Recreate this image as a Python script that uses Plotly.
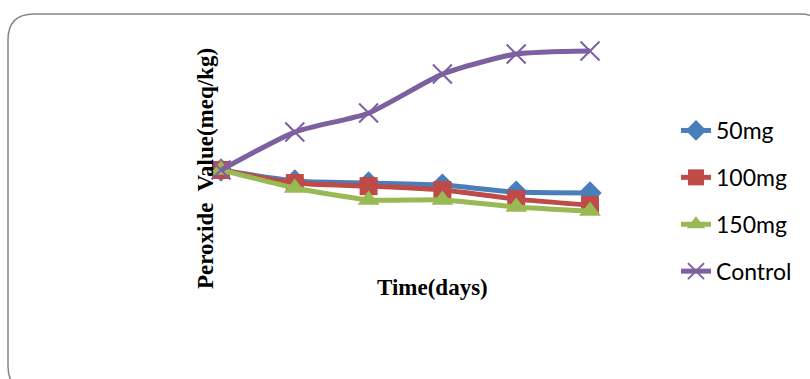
import plotly.graph_objects as go

# Sampling points along storage time and peroxide values (meq/kg)
samples = [1, 2, 3, 4, 5, 6]
pv_50mg = [5.0, 4.58, 4.50, 4.42, 4.15, 4.12]
pv_100mg = [5.0, 4.50, 4.38, 4.23, 3.88, 3.65]
pv_150mg = [5.0, 4.31, 3.85, 3.85, 3.58, 3.42]
pv_control = [5.0, 6.46, 7.19, 8.69, 9.46, 9.58]

series_names = ["50mg", "100mg", "150mg", "Control"]
series_values = [pv_50mg, pv_100mg, pv_150mg, pv_control]
series_colors = ["#4a7ebb", "#be4b48", "#98b954", "#7d60a0"]
series_symbols = ["diamond", "square", "triangle-up", "x-thin"]
marker_sizes = [18, 18, 19, 19]

W, H = 810, 379
ML, MR, MT, MB = 221, 220, 40, 79
PW, PH = W - ML - MR, H - MT - MB


def px(x):
    return (x - ML) / PW


def py(y):
    return (H - MB - y) / PH


fig = go.Figure()
for name, vals, col, sym, ms in zip(series_names, series_values, series_colors,
                                    series_symbols, marker_sizes):
    mk = dict(symbol=sym, size=ms, color=col)
    if sym == "x-thin":
        mk["line"] = dict(color=col, width=2)
    fig.add_trace(go.Scatter(
        x=samples, y=vals, name=name, legendgroup=name, mode="lines+markers",
        line=dict(color=col, width=5, shape="spline", smoothing=0.6),
        marker=mk, cliponaxis=False,
    ))

# Rounded outer frame
x0, x1, y0, y1, r = 8, 826, 14, 392, 26
path = (f"M {px(x0 + r)},{py(y0)} L {px(x1 - r)},{py(y0)} "
        f"Q {px(x1)},{py(y0)} {px(x1)},{py(y0 + r)} "
        f"L {px(x1)},{py(y1 - r)} Q {px(x1)},{py(y1)} {px(x1 - r)},{py(y1)} "
        f"L {px(x0 + r)},{py(y1)} Q {px(x0)},{py(y1)} {px(x0)},{py(y1 - r)} "
        f"L {px(x0)},{py(y0 + r)} Q {px(x0)},{py(y0)} {px(x0 + r)},{py(y0)} Z")
fig.add_shape(type="path", path=path, xref="paper", yref="paper",
              line=dict(color="#868686", width=1.5), layer="below")

fig.add_annotation(text="<b>Peroxide  Value(meq/kg)</b>", textangle=-90,
                   xref="paper", yref="paper", x=px(205), y=py(169),
                   xanchor="center", yanchor="middle", showarrow=False,
                   font=dict(family="Liberation Serif", size=23, color="black"))
fig.add_annotation(text="<b>Time(days)</b>", xref="paper", yref="paper",
                   x=px(432), y=py(287), xanchor="center", yanchor="middle",
                   showarrow=False,
                   font=dict(family="Liberation Serif", size=23, color="black"))

fig.update_layout(
    width=W, height=H,
    margin=dict(l=ML, r=MR, t=MT, b=MB),
    paper_bgcolor="white", plot_bgcolor="white",
    xaxis=dict(range=[1, 6], visible=False),
    yaxis=dict(range=[0, 10], visible=False),
    showlegend=True,
    legend=dict(x=px(676), y=py(109), xanchor="left", yanchor="top",
                font=dict(family="Lato", size=23, color="black"),
                itemwidth=30, tracegroupgap=14, bgcolor="rgba(0,0,0,0)"),
)

fig.write_html("out.html")
